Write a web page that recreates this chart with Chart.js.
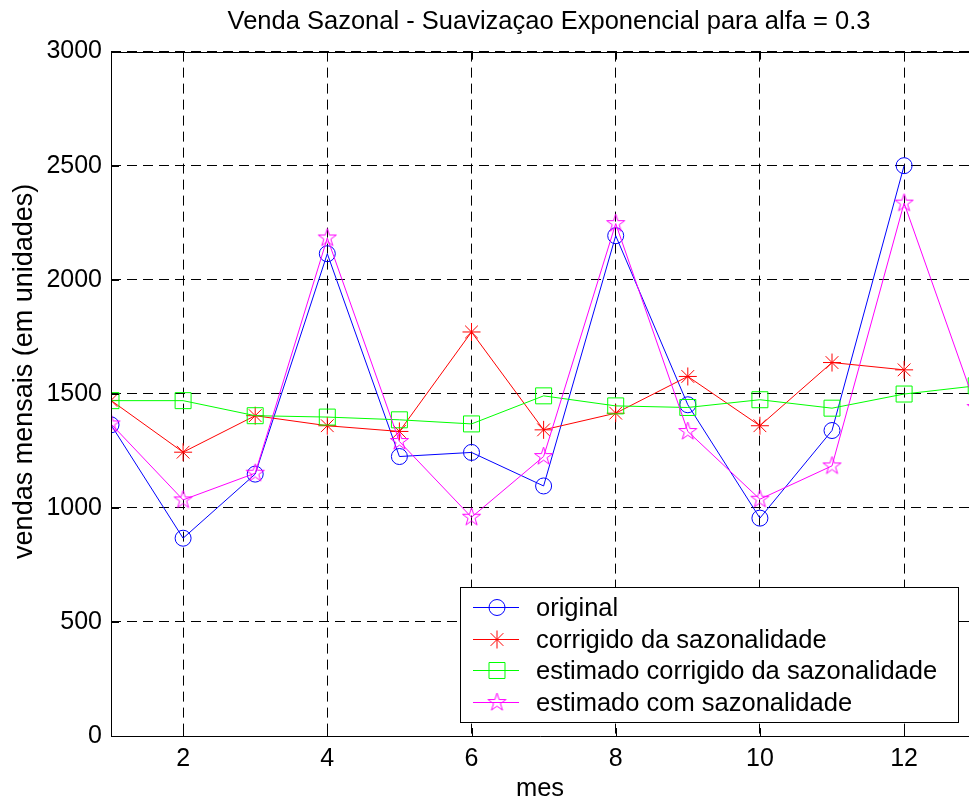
<!DOCTYPE html>
<html>
<head>
<meta charset="utf-8">
<title>Venda Sazonal</title>
<script src="https://cdn.jsdelivr.net/npm/chart.js@4.4.1/dist/chart.umd.min.js"></script>
<style>
    html, body { margin: 0; padding: 0; background: #fff; overflow: hidden; }
    #wrap { width: 969px; height: 804px; position: relative; }
    #wrap canvas { display: block; }
</style>
</head>
<body>
<div id="wrap"><canvas id="chart"></canvas></div>
<script>
// ── Data ─────────────────────────────────────────────────────────────
const months = [1, 2, 3, 4, 5, 6, 7, 8, 9, 10, 11, 12];
const forecastMonths = [1, 2, 3, 4, 5, 6, 7, 8, 9, 10, 11, 12, 13];

const original = [1364, 867, 1148, 2114, 1225, 1243, 1096, 2193, 1452, 955, 1339, 2500];
const corrigido = [1471, 1244, 1404, 1360, 1335, 1771, 1342, 1415, 1576, 1360, 1637, 1605];
const estimadoCorrigido = [1470, 1470, 1404, 1398, 1386, 1368, 1491, 1447, 1440, 1474, 1437, 1499, 1535];
const estimadoSazonal = [1368, 1035, 1152, 2183, 1291, 959, 1225, 2246, 1335, 1038, 1184, 2336, 1440];

const xTicks = [2, 4, 6, 8, 10, 12];
const yTicks = [0, 500, 1000, 1500, 2000, 2500, 3000];

const seriesNames = [
    'original',
    'corrigido da sazonalidade',
    'estimado corrigido da sazonalidade',
    'estimado com sazonalidade'
];

const FONT = "'Liberation Sans', Arial, Helvetica, sans-serif";
Chart.defaults.font.family = FONT;
Chart.defaults.color = '#000';

// pentagram marker (matlab 'p')
function makePentagram(color, r) {
    const size = Math.ceil(r * 2 + 4);
    const c = document.createElement('canvas');
    c.width = size; c.height = size;
    const g = c.getContext('2d');
    const cx = size / 2, cy = size / 2;
    const inner = r * 0.382;
    g.beginPath();
    for (let i = 0; i < 10; i++) {
        const rad = i % 2 === 0 ? r : inner;
        const a = -Math.PI / 2 + i * Math.PI / 5;
        const px = cx + rad * Math.cos(a), py = cy + rad * Math.sin(a);
        if (i === 0) g.moveTo(px, py); else g.lineTo(px, py);
    }
    g.closePath();
    g.strokeStyle = color;
    g.lineWidth = 1;
    g.stroke();
    return c;
}
const pentagram = makePentagram('#ff00ff', 9.5);

const toPoints = (xs, ys) => ys.map((y, i) => ({ x: xs[i], y }));

// ── Plugins: frame, inward ticks, legend box, title offset ───────────
const matlabAxes = {
    id: 'matlabAxes',
    afterLayout(chart) {
        // matlab centres the title over the full axis (which runs past the crop)
        const t = chart.titleBlock;
        if (t) { t.left = 111; t.right = 987; t.width = t.right - t.left; }
    },
    afterDatasetsDraw(chart) {
        const { ctx, chartArea: a, scales } = chart;
        ctx.save();
        ctx.strokeStyle = '#000';
        ctx.lineWidth = 1;
        ctx.setLineDash([]);
        // frame (right side is outside the cropped picture)
        ctx.beginPath();
        ctx.moveTo(a.right, Math.round(a.top) + 0.5);
        ctx.lineTo(Math.round(a.left) + 0.5, Math.round(a.top) + 0.5);
        ctx.lineTo(Math.round(a.left) + 0.5, Math.round(a.bottom) + 0.5);
        ctx.lineTo(a.right, Math.round(a.bottom) + 0.5);
        ctx.stroke();
        // inward tick marks
        const tl = 8;
        ctx.beginPath();
        xTicks.forEach(v => {
            const px = Math.round(scales.x.getPixelForValue(v)) + 0.5;
            ctx.moveTo(px, a.bottom); ctx.lineTo(px, a.bottom - tl);
            ctx.moveTo(px, a.top); ctx.lineTo(px, a.top + tl);
        });
        yTicks.forEach(v => {
            const py = Math.round(scales.y.getPixelForValue(v)) + 0.5;
            ctx.moveTo(a.left, py); ctx.lineTo(a.left + tl, py);
        });
        ctx.stroke();
        ctx.restore();
    },
    afterDraw(chart) {
        const { ctx } = chart;
        const box = { x: 460.5, y: 587.5, w: 498, h: 135 };
        ctx.save();
        ctx.fillStyle = '#fff';
        ctx.fillRect(box.x, box.y, box.w, box.h);
        ctx.strokeStyle = '#000';
        ctx.lineWidth = 1;
        ctx.strokeRect(box.x, box.y, box.w, box.h);
        ctx.font = '25.5px ' + FONT;
        ctx.textBaseline = 'middle';
        ctx.textAlign = 'left';
        chart.data.datasets.forEach((ds, i) => {
            const cy = Math.round(607 + i * 31.7) + 0.5;
            ctx.strokeStyle = ds.borderColor;
            ctx.lineWidth = 1;
            ctx.beginPath();
            ctx.moveTo(473, cy);
            ctx.lineTo(519, cy);
            ctx.stroke();
            ctx.fillStyle = 'rgba(0,0,0,0)';
            Chart.helpers.drawPoint(ctx, {
                pointStyle: ds.pointStyle,
                radius: ds.pointRadius,
                borderWidth: 1,
                rotation: 0
            }, 497, cy);
            ctx.fillStyle = '#000';
            ctx.fillText(seriesNames[i], 536, cy + 1);
        });
        ctx.restore();
    }
};

// ── Chart ────────────────────────────────────────────────────────────
const ctx = document.getElementById('chart');

new Chart(ctx, {
    type: 'line',
    data: {
        datasets: [
            {
                label: seriesNames[0],
                data: toPoints(months, original),
                borderColor: '#0000ff',
                pointStyle: 'circle',
                pointRadius: 8,
                order: 4,
            },
            {
                label: seriesNames[1],
                data: toPoints(months, corrigido),
                borderColor: '#ff0000',
                pointStyle: 'star',
                pointRadius: 9,
                order: 3,
            },
            {
                label: seriesNames[2],
                data: toPoints(forecastMonths, estimadoCorrigido),
                borderColor: '#00ff00',
                pointStyle: 'rect',
                pointRadius: 11.3,
                order: 2,
            },
            {
                label: seriesNames[3],
                data: toPoints(forecastMonths, estimadoSazonal),
                borderColor: '#ff00ff',
                pointStyle: pentagram,
                pointRadius: 9,
                order: 1,
            }
        ].map(ds => Object.assign({
            borderWidth: 1,
            backgroundColor: 'transparent',
            pointBackgroundColor: 'transparent',
            pointBorderColor: ds.borderColor,
            pointBorderWidth: 1,
            pointHoverRadius: ds.pointRadius,
            tension: 0,
            fill: false,
        }, ds))
    },
    options: {
        responsive: true,
        maintainAspectRatio: false,
        animation: false,
        layout: { autoPadding: false, padding: { left: 0, right: 0, top: 0, bottom: 0 } },
        plugins: {
            legend: { display: false },
            tooltip: { enabled: false },
            title: {
                display: true,
                text: 'Venda Sazonal - Suavizaçao Exponencial para alfa = 0.3',
                color: '#000',
                font: { size: 25.5, weight: 'normal', family: FONT },
                padding: { top: 7, bottom: 14 }
            }
        },
        scales: {
            x: {
                type: 'linear',
                min: 1,
                max: 12.9,
                afterBuildTicks: s => { s.ticks = xTicks.map(v => ({ value: v })); },
                afterFit: s => { s.height = 68; s.paddingLeft = 0; s.paddingRight = 0; },
                grid: { color: '#000', lineWidth: 1, drawTicks: false },
                border: { display: false, dash: [10, 6] },
                ticks: { padding: 8, font: { size: 25 }, color: '#000', maxRotation: 0, autoSkip: false, callback: v => String(v) },
                title: { display: true, text: 'mes', color: '#000', font: { size: 25.5 }, padding: { top: 0, bottom: 0 } }
            },
            y: {
                min: 0,
                max: 3000,
                afterBuildTicks: s => { s.ticks = yTicks.map(v => ({ value: v })); },
                afterFit: s => { s.width = 111; },
                grid: { color: '#000', lineWidth: 1, drawTicks: false },
                border: { display: false, dash: [10, 6] },
                ticks: { padding: 9, font: { size: 25 }, color: '#000', callback: v => String(v) },
                title: {
                    display: true,
                    // leading no-break spaces nudge the label up, as in the figure
                    text: '\u00a0\u00a0\u00a0\u00a0\u00a0\u00a0vendas mensais (em unidades)',
                    color: '#000',
                    font: { size: 27 },
                    padding: { top: 8, bottom: 0 }
                }
            }
        }
    },
    plugins: [matlabAxes]
});
</script>
</body>
</html>
